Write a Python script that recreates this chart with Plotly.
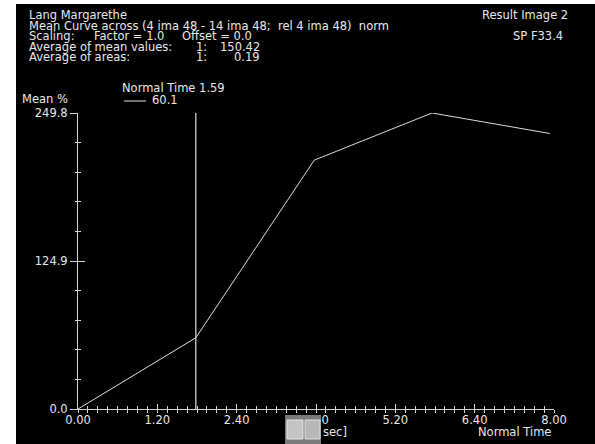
import plotly.graph_objects as go

# ---- data ----
time_s = [0.0, 1.98, 3.97, 5.95, 7.93]
mean_pct = [0.0, 60.1, 210.0, 249.8, 232.5]
cursor_t = 1.98
cursor_val = "60.1"
x_tick_vals = [0.0, 4 / 3, 8 / 3, 4.0, 16 / 3, 20 / 3, 8.0]
x_tick_text = ["0.00", "1.20", "2.40", "4.00", "5.20", "6.40", "8.00"]
y_tick_vals = [0.0, 124.9, 249.8]
y_tick_text = ["0.0", "124.9", "249.8"]
header_lines = [
    "Lang Margarethe",
    "Mean Curve across (4 ima 48 - 14 ima 48;  rel 4 ima 48)  norm",
    "Scaling:",
    "Average of mean values:",
    "Average of areas:",
]
stats_idx = ["1:", "1:"]
stats_val = ["150.42", "0.19"]

W, H = 595, 444
L, R, T, B = 78, 41, 113, 35
PW, PH = W - L - R, H - T - B


def px(x):
    return (x - L) / PW


def py(y):
    return (H - B - y) / PH


FONT = "DejaVu Sans"
FS = 11.5
TXT = "#e8e8e8"
AX = "#d4d4d4"

fig = go.Figure()
fig.add_trace(go.Scatter(x=time_s, y=mean_pct, mode="lines",
                         line=dict(color="#dcdcdc", width=1),
                         showlegend=False, hoverinfo="skip"))
# invisible copies so the overlay tick axes are drawn
for xa, ya in (("x2", "y2"), ("x3", "y")):
    fig.add_trace(go.Scatter(x=time_s, y=mean_pct, mode="lines", xaxis=xa, yaxis=ya,
                             line=dict(color="rgba(0,0,0,0)", width=0),
                             showlegend=False, hoverinfo="skip"))

y_minor = [249.8 / 10 * k for k in range(11)]

common_font = dict(family=FONT, size=FS, color=TXT)
tick_common = dict(showgrid=False, zeroline=False, tickcolor=AX, tickwidth=1)
fig.update_layout(
    width=W, height=H,
    margin=dict(l=L, r=R, t=T, b=B),
    paper_bgcolor="white", plot_bgcolor="black",
    font=common_font,
    xaxis=dict(range=[0, 8], tickvals=x_tick_vals, ticktext=x_tick_text,
               showline=True, linecolor=AX, linewidth=1, ticks="",
               tickfont=common_font, fixedrange=True, **tick_common),
    xaxis2=dict(range=[0, 8], overlaying="x", anchor="y", side="bottom", matches="x",
                tickvals=x_tick_vals, showticklabels=False, showline=False,
                ticks="inside", ticklen=5,
                minor=dict(dtick=1 / 6, tick0=0, ticks="inside", ticklen=3, tickcolor=AX, showgrid=False),
                **tick_common),
    xaxis3=dict(range=[0, 8], overlaying="x", anchor="y", side="bottom", matches="x",
                tickvals=x_tick_vals, showticklabels=False, showline=False,
                ticks="outside", ticklen=3,
                minor=dict(dtick=1 / 6, tick0=0, ticks="outside", ticklen=3, tickcolor=AX, showgrid=False),
                **tick_common),
    yaxis=dict(range=[0, 249.8], tickvals=y_tick_vals, ticktext=y_tick_text,
               showline=True, linecolor=AX, linewidth=1,
               ticks="outside", ticklen=7,
               minor=dict(tickvals=y_minor, ticks="outside", ticklen=2, tickcolor=AX, showgrid=False),
               tickfont=common_font, fixedrange=True, **tick_common),
    yaxis2=dict(range=[0, 249.8], overlaying="y", anchor="x", side="left", matches="y",
                tickvals=y_tick_vals, showticklabels=False, showline=False,
                ticks="inside", ticklen=7,
                minor=dict(tickvals=y_minor, ticks="inside", ticklen=3, tickcolor=AX, showgrid=False),
                **tick_common),
)

shapes = []
# black panel (white border left and top comes from the paper)
shapes.append(dict(type="rect", xref="paper", yref="paper", x0=px(16), x1=px(W + 2), y0=py(H + 2), y1=py(4),
                   fillcolor="black", line=dict(width=0), layer="below"))
# cursor line
shapes.append(dict(type="line", xref="x", yref="paper", x0=cursor_t, x1=cursor_t, y0=0, y1=1,
                   line=dict(color="#e0e0e0", width=1.2)))
# legend sample line
shapes.append(dict(type="line", xref="paper", yref="paper", x0=px(124), x1=px(146), y0=py(101), y1=py(101),
                   line=dict(color="#e0e0e0", width=1)))
# icon at bottom
shapes.append(dict(type="rect", xref="paper", yref="paper", x0=px(285), x1=px(321), y0=py(446), y1=py(415),
                   fillcolor="#7a7a7a", line=dict(width=0), layer="above"))
shapes.append(dict(type="rect", xref="paper", yref="paper", x0=px(287), x1=px(303), y0=py(439), y1=py(420),
                   fillcolor="#c4c4c4", line=dict(color="#e6e6e6", width=1), layer="above"))
shapes.append(dict(type="rect", xref="paper", yref="paper", x0=px(305), x1=px(320), y0=py(439), y1=py(420),
                   fillcolor="#b8b8b8", line=dict(color="#e0e0e0", width=1), layer="above"))
fig.update_layout(shapes=shapes)

ann = []


def text(s, x, y, xanchor="left"):
    ann.append(dict(text=s, x=px(x), y=py(y), xref="paper", yref="paper", showarrow=False,
                    xanchor=xanchor, yanchor="middle", font=common_font))


line_y = [15, 25.5, 36, 46.5, 57]
for s, y in zip(header_lines, line_y):
    text(s, 27, y)
text("Factor = 1.0", 92, line_y[2])
text("Offset = 0.0", 180, line_y[2])
for i in range(2):
    text(stats_idx[i], 194, line_y[3 + i])
    text(stats_val[i], 262, line_y[3 + i], xanchor="right")
text("Result Image 2", 570, 15, xanchor="right")
text("SP F33.4", 565, 36, xanchor="right")
text("Normal Time 1.59", 120, 88)
text(cursor_val, 150, 100)
text("Mean %", 20, 99)
text("Normal Time", 553, 432, xanchor="right")
text("sec]", 321, 432)
fig.update_layout(annotations=ann)

fig.write_html("out.html", config={"displayModeBar": False},
               post_script="document.body.style.margin='0px';")
